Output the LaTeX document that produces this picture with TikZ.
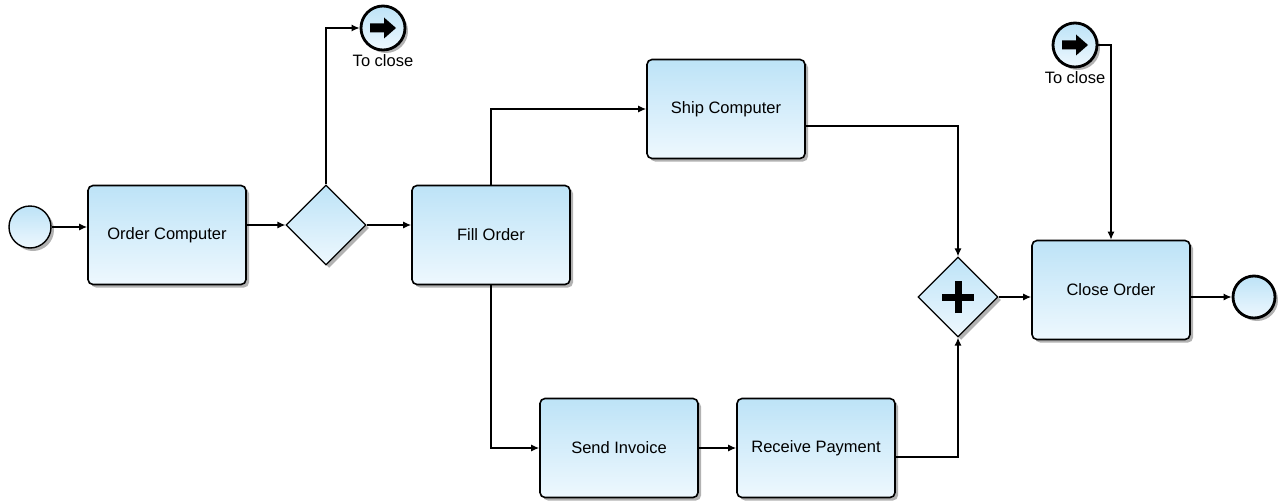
\documentclass[tikz,border=0pt]{standalone}
\usepackage{fontspec}
\setmainfont{Liberation Sans}
\usetikzlibrary{arrows.meta,shapes.geometric,shadows}

\definecolor{taskTop}{HTML}{BDE3F7}
\definecolor{taskBot}{HTML}{EEF8FE}

\begin{document}
\begin{tikzpicture}[
    x=1pt, y=-1pt,
    font=\fontsize{16.5}{18}\selectfont,
    shade/.style={top color=taskTop, bottom color=taskBot, drop shadow={shadow xshift=3pt, shadow yshift=-3pt, fill=black!60}},
    task/.style={shade, draw, line width=1.6pt, rounded corners=5pt, minimum width=158pt, minimum height=99pt, align=center},
    startev/.style={shade, circle, draw, line width=1.4pt, minimum size=42pt, inner sep=0pt},
    endev/.style={shade, circle, draw, line width=2.8pt, minimum size=42pt, inner sep=0pt},
    gw/.style={shade, diamond, draw, line width=1.2pt, minimum width=80pt, minimum height=80pt, inner sep=0pt},
    pargw/.style={gw, path picture={
        \draw[line width=7pt] ([xshift=-16pt]path picture bounding box.center) -- ([xshift=16pt]path picture bounding box.center);
        \draw[line width=7pt] ([yshift=-16pt]path picture bounding box.center) -- ([yshift=16pt]path picture bounding box.center);}},
    linkev/.style={shade, circle, draw, line width=2.8pt, minimum size=44pt, inner sep=0pt, label distance=7pt,
      path picture={
        \fill ([shift={(-13pt,-4.5pt)}]path picture bounding box.center) -- ++(14pt,0) -- ++(0,-6pt) -- ++(12pt,10.5pt)
          -- ++(-12pt,10.5pt) -- ++(0,-6pt) -- ++(-14pt,0) -- cycle;}},
    arr/.style={-{Latex[length=8pt,width=7pt]}, line width=1.3pt}
  ]
  \useasboundingbox (0,0) rectangle (1284,503);

  % events and gateways
  \node[startev] (start) at (30,227) {};
  \node[task] (order) at (167,235) {Order Computer};
  \node[gw] (split) at (326,225) {};
  \node[linkev, label=below:To close] (link1) at (383,28) {};
  \node[task] (fill) at (491,235) {Fill Order};
  \node[task] (ship) at (726,109) {Ship Computer};
  \node[task] (send) at (619,448) {Send Invoice};
  \node[task] (recv) at (816,448) {Receive Payment};
  \node[pargw] (join) at (958,297) {};
  \node[task] (close) at (1111,290) {Close Order};
  \node[endev] (end) at (1254,297) {};
  \node[linkev, label=below:To close] (link2) at (1075,45) {};

  % flows
  \draw[arr] (start.east) -- (start.east -| order.west);
  \draw[arr] (order.east |- split.west) -- (split.west);
  \draw[arr] (split.north) |- (link1.west);
  \draw[arr] (split.east) -- (fill.west |- split.east);
  \draw[arr] (fill.north) |- (ship.west);
  \draw[arr] (fill.south) |- (send.west);
  \draw[arr] (send) -- (recv);
  \draw[arr] ([yshift=-17pt]ship.east) -| (join.north);
  \draw[arr] ([yshift=-9pt]recv.east) -| (join.south);
  \draw[arr] (join.east) -- (join.east -| close.west);
  \draw[arr] (join.east -| close.east) -- (end.west);
  \draw[arr] (link2.east) -| (close.north);
\end{tikzpicture}
\end{document}
